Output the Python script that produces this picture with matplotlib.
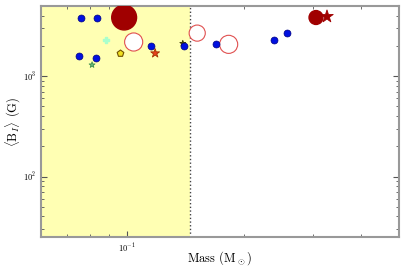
import matplotlib
matplotlib.use('Agg')
import matplotlib.pyplot as plt
from matplotlib.ticker import NullFormatter

plt.rcParams['font.family'] = 'serif'
plt.rcParams['font.serif'] = ['cmr10']
plt.rcParams['mathtext.fontset'] = 'cm'
plt.rcParams['axes.formatter.use_mathtext'] = True

# blue points
blue_mass = [0.0762, 0.0837, 0.0753, 0.0832, 0.1153, 0.140, 0.1694, 0.238, 0.2576]
blue_b = [3840, 3840, 1590, 1510, 1995, 1995, 2075, 2290, 2670]

# open red circles
open_mass = [0.1039, 0.1514, 0.1824]
open_b = [2190, 2685, 2075]
open_size = [170, 135, 170]

# filled dark red circles
dark_mass = [0.0982, 0.306]
dark_b = [3840, 3840]
dark_size = [320, 100]

# stars / misc single objects
star_mass = [0.3266, 0.118, 0.0812, 0.139]
star_b = [3930, 1690, 1295, 2120]
star_face = ['#a00000', '#e8401c', '#6fbf7f', '#555500']
star_edge = ['#a00000', '#a03000', '#3f8f4f', '#333300']
star_size = [90, 45, 20, 20]

yellow_mass = [0.0959]
yellow_b = [1690]
green_mass = [0.0882]
green_b = [2290]

boundary_mass = 0.145

fig = plt.figure(figsize=(4.07, 2.67), dpi=100)
ax = fig.add_axes([0.1007, 0.1124, 0.8793, 0.8651])
ax.set_xscale('log')
ax.set_yscale('log')
ax.set_xlim(0.06, 0.5)
ax.set_ylim(25, 5000)

ax.axvspan(0.06, boundary_mass, color='#ffffb3', zorder=0, lw=0)
ax.axvline(boundary_mass, color='#444444', ls=':', lw=1, zorder=1)

ax.scatter(dark_mass, dark_b, s=dark_size, c='#a00000', edgecolors='#a00000', zorder=3)
ax.scatter(open_mass, open_b, s=open_size, facecolors='white', edgecolors='#e05050', lw=0.8, zorder=3)
ax.scatter(star_mass, star_b, s=star_size, marker='*', c=star_face, edgecolors=star_edge, lw=0.6, zorder=4)
ax.scatter(yellow_mass, yellow_b, s=25, marker='p', c='#f0e020', edgecolors='#705000', lw=0.8, zorder=4)
ax.scatter(green_mass, green_b, s=20, marker='P', c='#aaffcc', edgecolors='#aaffcc', zorder=4)
ax.scatter(blue_mass, blue_b, s=25, c='#0010e0', edgecolors='#000080', lw=0.5, zorder=5)

for side in ax.spines.values():
    side.set_color('#999999')
    side.set_linewidth(1.5)
ax.tick_params(which='both', direction='in', top=True, right=True, colors='#555555', labelcolor='black', labelsize=6)
ax.tick_params(which='major', length=4)
ax.tick_params(which='minor', length=2)
ax.xaxis.set_minor_formatter(NullFormatter())
ax.yaxis.set_minor_formatter(NullFormatter())

ax.set_xlabel(r'Mass (M$_\odot$)', fontsize=9)
ax.set_ylabel(r'$\langle\mathrm{B}_I\rangle$ (G)', fontsize=9)
ax.xaxis.set_label_coords(0.5, -0.055)
ax.yaxis.set_label_coords(-0.05, 0.5)

fig.savefig('out.png', dpi=100)
